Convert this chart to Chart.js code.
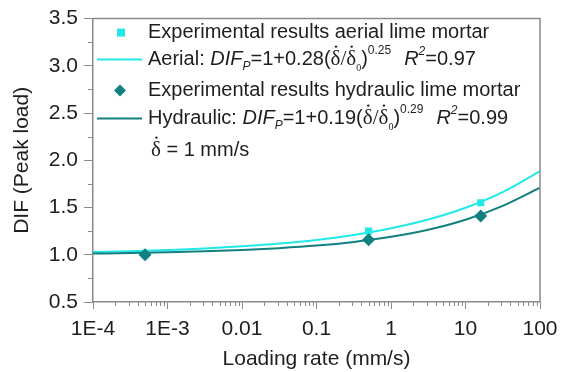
<!DOCTYPE html>
<html><head><meta charset="utf-8">
<script src="https://cdn.jsdelivr.net/npm/chart.js@4/dist/chart.umd.min.js"></script>
<style>html,body{margin:0;padding:0;background:#fff}#wrap{width:575px;height:372px;position:relative}</style>
</head><body><div id="wrap"><canvas id="c" width="575" height="372"></canvas></div>
<script>
// ---- data ----
const rateExp = [0.0005, 0.5, 16];
const aerialExp = [1.01, 1.25, 1.55];
const hydraulicExp = [1.0, 1.16, 1.41];
const fitRate = [1e-4, 3.16e-4, 1e-3, 3.16e-3, 0.01, 0.0316, 0.1, 0.316, 1, 3.16, 10, 31.6, 100];
const aerialFit = [1.028, 1.037, 1.050, 1.066, 1.089, 1.118, 1.157, 1.210, 1.280, 1.373, 1.498, 1.664, 1.885];
const hydraulicFit = [1.013, 1.018, 1.026, 1.036, 1.050, 1.070, 1.097, 1.136, 1.190, 1.265, 1.371, 1.517, 1.710];
const xTickValues = [1e-4, 1e-3, 0.01, 0.1, 1, 10, 100];
const xTickLabels = ['1E-4', '1E-3', '0.01', '0.1', '1', '10', '100'];
const yTickLabels = ['0.5', '1.0', '1.5', '2.0', '2.5', '3.0', '3.5'];
const legendLabels = ['Experimental results aerial lime mortar', 'Aerial: ', 'Experimental results hydraulic lime mortar', 'Hydraulic: '];

const CYAN = '#22E8E8';
const TEAL = '#128080';
const AXIS = '#8a8a8a';
const TXT = '#1e1e1e';
const SANS = '"Liberation Sans", Arial, sans-serif';
const SERIF = '"Liberation Serif", "Times New Roman", serif';

const pts = (xs, ys) => xs.map((x, i) => ({x: x, y: ys[i]}));

function runs(ctx, x, y, parts) {
  ctx.textBaseline = 'middle';
  ctx.textAlign = 'left';
  for (const p of parts) {
    ctx.font = p.f;
    const w = ctx.measureText(p.t).width;
    ctx.fillText(p.t, x, y + (p.dy || 0));
    if (p.dot) {
      ctx.beginPath(); ctx.arc(x + w / 2 + 0.5, y - 13, 1.2, 0, Math.PI * 2); ctx.fill();
    }
    x += w;
  }
  return x;
}

const extras = {
  id: 'extras',
  afterDraw(chart) {
    const ctx = chart.ctx, a = chart.chartArea;
    const xs = chart.scales.x, ys = chart.scales.y;
    ctx.save();
    // frame top + right
    ctx.strokeStyle = AXIS; ctx.lineWidth = 1.5;
    ctx.beginPath();
    ctx.moveTo(a.left, a.top); ctx.lineTo(a.right, a.top); ctx.lineTo(a.right, a.bottom);
    ctx.stroke();
    // minor ticks x
    ctx.lineWidth = 1;
    ctx.beginPath();
    for (let d = -4; d < 2; d++) {
      for (let m = 2; m <= 9; m++) {
        const px = Math.round(xs.getPixelForValue(m * Math.pow(10, d))) + 0.5;
        ctx.moveTo(px, a.bottom); ctx.lineTo(px, a.bottom + 4);
      }
    }
    // minor ticks y
    for (let v = 0.75; v < 3.5; v += 0.5) {
      const py = Math.round(ys.getPixelForValue(v)) + 0.5;
      ctx.moveTo(a.left - 5, py); ctx.lineTo(a.left, py);
    }
    ctx.stroke();

    // legend
    const L = a.left, T = a.top;
    const tx = L + 55;
    const F = '20px ' + SANS, FI = 'italic 20px ' + SANS, FS = 'italic 12px ' + SANS, FSUP = '12px ' + SANS;
    const FD = '21px ' + SERIF, FD0 = '10px ' + SERIF;
    // row 1
    ctx.fillStyle = CYAN; ctx.fillRect(L + 24, T + 10, 8, 8);
    ctx.fillStyle = TXT;
    runs(ctx, tx, T + 14, [{t: legendLabels[0], f: F}]);
    // row 2
    ctx.strokeStyle = CYAN; ctx.lineWidth = 2;
    ctx.beginPath(); ctx.moveTo(L + 4, T + 41); ctx.lineTo(L + 49, T + 41); ctx.stroke();
    const formula = (name, coef, expo, r2, y) => {
      let x = runs(ctx, tx, y, [
        {t: name, f: F}, {t: 'DIF', f: FI}, {t: 'P', f: FS, dy: 7}, {t: '=1+' + coef + '(', f: F},
        {t: 'δ', f: FD, dot: true}, {t: '/', f: FD}, {t: 'δ', f: FD, dot: true}, {t: '0', f: FD0, dy: 9},
        {t: ')', f: F}, {t: expo, f: FSUP, dy: -9}
      ]);
      runs(ctx, x + 13, y, [{t: 'R', f: FI}, {t: '2', f: 'italic 12px ' + SANS, dy: -8}, {t: '=' + r2, f: F}]);
    };
    formula(legendLabels[1], '0.28', '0.25', '0.97', T + 41);
    // row 3
    ctx.fillStyle = TEAL;
    ctx.beginPath();
    const dx = L + 27, dy3 = T + 72;
    ctx.moveTo(dx, dy3 - 6); ctx.lineTo(dx + 6, dy3); ctx.lineTo(dx, dy3 + 6); ctx.lineTo(dx - 6, dy3); ctx.closePath(); ctx.fill();
    ctx.fillStyle = TXT;
    runs(ctx, tx, T + 72, [{t: legendLabels[2], f: F}]);
    // row 4
    ctx.strokeStyle = TEAL; ctx.lineWidth = 2;
    ctx.beginPath(); ctx.moveTo(L + 4, T + 100); ctx.lineTo(L + 49, T + 100); ctx.stroke();
    formula(legendLabels[3], '0.19', '0.29', '0.99', T + 100);
    // row 5
    runs(ctx, L + 58, T + 132, [{t: 'δ', f: FD, dot: true}, {t: ' = 1 mm/s', f: F}]);
    ctx.restore();
  }
};

new Chart(document.getElementById('c'), {
  type: 'scatter',
  data: {
    datasets: [
      {label: 'Experimental results hydraulic lime mortar', data: pts(rateExp, hydraulicExp), order: 0,
       pointStyle: 'rectRot', pointRadius: 6.5, backgroundColor: TEAL, borderColor: TEAL, borderWidth: 0},
      {label: 'Experimental results aerial lime mortar', data: pts(rateExp, aerialExp), order: 1,
       pointStyle: 'rect', pointRadius: 5, backgroundColor: CYAN, borderColor: CYAN, borderWidth: 0},
      {label: 'Aerial fit', data: pts(fitRate, aerialFit), order: 3, showLine: true, pointRadius: 0,
       borderColor: CYAN, borderWidth: 2, cubicInterpolationMode: 'monotone', fill: false},
      {label: 'Hydraulic fit', data: pts(fitRate, hydraulicFit), order: 2, showLine: true, pointRadius: 0,
       borderColor: TEAL, borderWidth: 2, cubicInterpolationMode: 'monotone', fill: false}
    ]
  },
  options: {
    responsive: false, animation: false, devicePixelRatio: 1,
    layout: {padding: {left: 2, right: 35, top: 15, bottom: 0}},
    plugins: {legend: {display: false}, tooltip: {enabled: false}},
    scales: {
      x: {
        type: 'logarithmic', min: 1e-4, max: 100,
        afterBuildTicks: s => { s.ticks = xTickValues.map(v => ({value: v, major: true})); },
        afterFit: s => { s.height = 70; },
        ticks: {autoSkip: false, maxRotation: 0, padding: 8, color: TXT, font: {size: 21, family: SANS},
                callback: (v, i) => xTickLabels[i]},
        grid: {display: true, drawOnChartArea: false, drawTicks: true, tickLength: 7, color: AXIS, lineWidth: 1},
        border: {display: true, color: AXIS, width: 1.5},
        title: {display: true, text: 'Loading rate (mm/s)', color: TXT, font: {size: 21, family: SANS}, padding: {top: 2, bottom: 0}}
      },
      y: {
        type: 'linear', min: 0.5, max: 3.5,
        afterFit: s => { s.width = 91; },
        ticks: {stepSize: 0.5, padding: 6, color: TXT, font: {size: 21, family: SANS},
                callback: (v, i) => yTickLabels[i]},
        grid: {display: true, drawOnChartArea: false, drawTicks: true, tickLength: 9, color: AXIS, lineWidth: 1},
        border: {display: true, color: AXIS, width: 1.5},
        title: {display: true, text: 'DIF (Peak load)', color: TXT, font: {size: 21, family: SANS}, padding: {top: 8, bottom: 0}}
      }
    }
  },
  plugins: [extras]
});
</script></body></html>
